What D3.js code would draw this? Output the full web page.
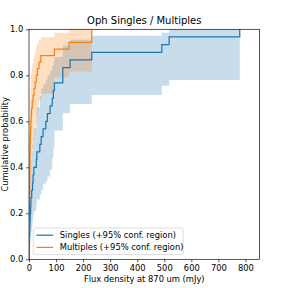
<!DOCTYPE html>
<html><head><meta charset="utf-8">
<script src="https://cdn.jsdelivr.net/npm/d3@7"></script>
<style>body{margin:0;background:#fff}svg{display:block;font-family:"DejaVu Sans",sans-serif}</style>
</head><body><svg id="c" width="288" height="288"></svg>
<script>
const xTicks = [0,100,200,300,400,500,600,700,800];
const yTicks = [0.0,0.2,0.4,0.6,0.8,1.0];

const singlesFlux  = [0,0.5,1,1.5,2.5,3.5,4.5,6,7,10,13,15,18,27,29,40,45,52,62,68,78,86,90,94,125,152,232,491,518,779];
const singlesCdf   = [0,0.033,0.067,0.1,0.133,0.167,0.2,0.233,0.267,0.3,0.333,0.367,0.4,0.433,0.467,0.5,0.533,0.567,0.6,0.633,0.667,0.7,0.733,0.767,0.833,0.867,0.9,0.933,0.967,1.0];
const singlesLower = [0,0,0,0.01,0.03,0.05,0.07,0.1,0.12,0.14,0.17,0.19,0.21,0.24,0.26,0.28,0.3,0.33,0.34,0.36,0.39,0.44,0.48,0.56,0.635,0.675,0.714,0.755,0.78,0.78];
const singlesUpper = [0.12,0.17,0.2,0.25,0.29,0.32,0.36,0.4,0.43,0.47,0.5,0.53,0.57,0.63,0.66,0.71,0.74,0.76,0.78,0.8,0.82,0.84,0.86,0.88,0.93,0.955,0.972,0.985,1.0,1.0];

const multFlux  = [0,0.3,0.5,0.7,0.9,1.0,1.2,1.4,1.6,1.8,2.0,2.2,2.5,2.8,3.0,3.3,3.6,4.0,4.5,5.2,6,7,8,9.5,12,15,19,23,27,31,37,44,94,148,232];
const multCdf   = [0,0.029,0.057,0.086,0.114,0.143,0.171,0.2,0.229,0.257,0.286,0.314,0.343,0.371,0.4,0.429,0.457,0.486,0.514,0.543,0.571,0.6,0.629,0.657,0.686,0.714,0.743,0.771,0.8,0.829,0.857,0.886,0.914,0.943,1.0];
const multLower = [0,0,0,0,0.01,0.02,0.04,0.06,0.08,0.1,0.12,0.14,0.16,0.18,0.2,0.22,0.25,0.27,0.3,0.33,0.36,0.39,0.42,0.45,0.48,0.52,0.55,0.58,0.62,0.65,0.69,0.72,0.79,0.816,0.816];
const multUpper = [0.1,0.15,0.2,0.24,0.28,0.31,0.34,0.37,0.4,0.43,0.46,0.49,0.52,0.55,0.58,0.61,0.64,0.67,0.7,0.74,0.77,0.79,0.81,0.83,0.85,0.87,0.89,0.91,0.93,0.94,0.955,0.965,0.985,1.0,1.0];

const legendLabels = ["Singles (+95% conf. region)","Multiples (+95% conf. region)"];
const colors = ["#1f77b4","#ff7f0e"];

const L=29, R=259.5, T=29.3, B=259.3;
const FS=8.33;
const svg = d3.select("#c");
const x = d3.scaleLinear().domain([0,852]).range([L,R]);
const y = d3.scaleLinear().domain([0,1]).range([B,T]);

svg.append("clipPath").attr("id","cp").append("rect")
  .attr("x",L).attr("y",T).attr("width",R-L).attr("height",B-T);
const g = svg.append("g").attr("clip-path","url(#cp)");

function rows(f,c,lo,up){return f.map((v,i)=>({x:v,c:c[i],lo:lo[i],up:up[i]}));}
const series = [rows(singlesFlux,singlesCdf,singlesLower,singlesUpper), rows(multFlux,multCdf,multLower,multUpper)];

const area = d3.area().curve(d3.curveStepAfter).x(d=>x(d.x)).y0(d=>y(d.lo)).y1(d=>y(d.up));
const line = d3.line().curve(d3.curveStepAfter).x(d=>x(d.x)).y(d=>y(d.c));

series.forEach((s,i)=>{
  g.append("path").attr("d",area(s)).attr("fill",colors[i]).attr("fill-opacity",0.25);
});
series.forEach((s,i)=>{
  g.append("path").attr("d",line(s)).attr("fill","none").attr("stroke",colors[i]).attr("stroke-width",1.25);
});

// axes
const xa = svg.append("g").attr("transform",`translate(0,${B})`)
  .call(d3.axisBottom(x).tickValues(xTicks).tickSize(2.9).tickPadding(2.9).tickFormat(d3.format("d")));
const ya = svg.append("g").attr("transform",`translate(${L},0)`)
  .call(d3.axisLeft(y).tickValues(yTicks).tickSize(2.9).tickPadding(2.9).tickFormat(d3.format(".1f")));
[xa,ya].forEach(a=>{
  a.select(".domain").remove();
  a.selectAll("text").attr("font-size",FS).attr("fill","#000").attr("font-family","DejaVu Sans");
  a.selectAll("line").attr("stroke","#000").attr("stroke-width",0.67);
});
svg.append("rect").attr("x",L).attr("y",T).attr("width",R-L).attr("height",B-T)
  .attr("fill","none").attr("stroke","#000").attr("stroke-width",0.67);

svg.append("text").attr("x",(L+R)/2).attr("y",24.2).attr("text-anchor","middle")
  .attr("font-size",10).text("Oph Singles / Multiples");
svg.append("text").attr("x",(L+R)/2).attr("y",282.3).attr("text-anchor","middle")
  .attr("font-size",FS).text("Flux density at 870 um (mJy)");
svg.append("text").attr("transform",`translate(7.9,${(T+B)/2}) rotate(-90)`).attr("text-anchor","middle")
  .attr("font-size",FS).text("Cumulative probability");

// legend
const lg = svg.append("g");
lg.append("rect").attr("x",33.2).attr("y",228).attr("width",150).attr("height",26.6).attr("rx",2.2)
  .attr("fill","#fff").attr("fill-opacity",0.8).attr("stroke","#ccc").attr("stroke-width",0.67);
legendLabels.forEach((t,i)=>{
  const cy = 235.2 + i*12.2;
  lg.append("line").attr("x1",36.5).attr("x2",53.2).attr("y1",cy).attr("y2",cy).attr("stroke",colors[i]).attr("stroke-width",1.25);
  lg.append("text").attr("x",59.8).attr("y",cy).attr("dy","0.35em").attr("font-size",FS).text(t);
});
</script></body></html>
